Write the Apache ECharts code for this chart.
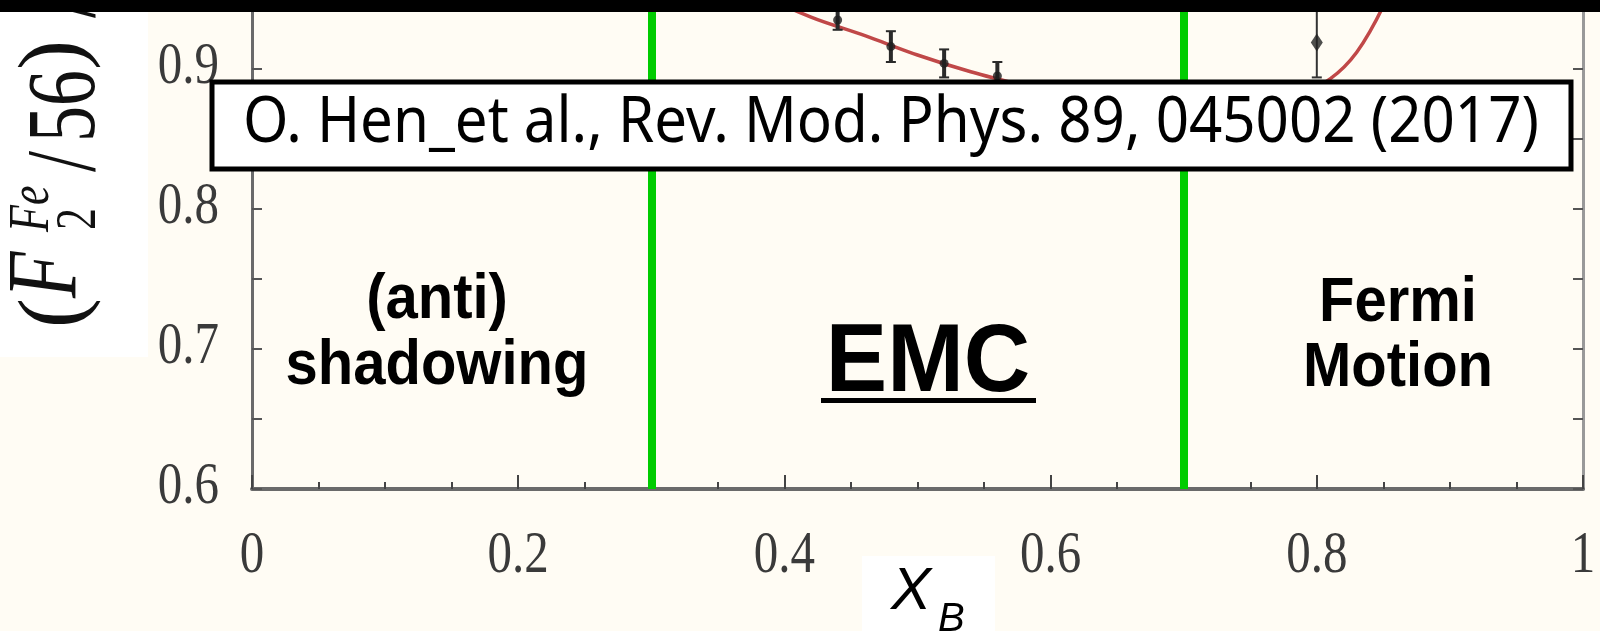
<!DOCTYPE html>
<html>
<head>
<meta charset="utf-8">
<script src="https://cdn.jsdelivr.net/npm/echarts@6/dist/echarts.min.js"></script>
<style>
  html, body { margin: 0; padding: 0; background: #fffcf4; }
  #chart { width: 1600px; height: 631px; }
</style>
</head>
<body>
<div id="chart"></div>
<script>
// Per-nucleon structure function ratio of iron vs Bjorken x
const xTickValues = [0, 0.2, 0.4, 0.6, 0.8, 1];
const xTickLabels = ['0', '0.2', '0.4', '0.6', '0.8', '1'];
const yTickValues = [0.6, 0.7, 0.8, 0.9];
const yTickLabels = ['0.6', '0.7', '0.8', '0.9'];

// EMC-region measurements: x, ratio, error
const emcX = [0.44, 0.48, 0.52, 0.56];
const emcY = [0.935, 0.916, 0.904, 0.895];
const emcErr = [0.007, 0.011, 0.010, 0.010];

// Fermi-motion region measurement
const fermiX = [0.80];
const fermiY = [0.919];
const fermiErr = [0.025];

// Fitted curve
const fitX = [0.34, 0.38, 0.42, 0.46, 0.50, 0.54, 0.58, 0.62, 0.66, 0.70, 0.74, 0.78, 0.81, 0.83, 0.85, 0.87];
const fitY = [0.985, 0.955, 0.937, 0.924, 0.910, 0.898, 0.888, 0.879, 0.872, 0.868, 0.868, 0.878, 0.893, 0.912, 0.945, 0.990];

// Region boundaries
const boundaries = [0.3, 0.7];

const regionNames = ['(anti)\nshadowing', 'EMC', 'Fermi\nMotion'];
const citation = 'O. Hen_et al., Rev. Mod. Phys. 89, 045002 (2017)';

const chart = echarts.init(document.getElementById('chart'), null, { renderer: 'canvas' });

function measure(font, text) {
  const c = document.createElement('canvas').getContext('2d');
  c.font = font;
  return c.measureText(text).width;
}

function errorBars(lineW, capW, color) {
  return function (params, api) {
    const x = api.value(0), y = api.value(1), e = api.value(2);
    const hi = api.coord([x, y + e]);
    const lo = api.coord([x, y - e]);
    return {
      type: 'group',
      children: [
        { type: 'line', shape: { x1: hi[0], y1: hi[1], x2: lo[0], y2: lo[1] }, style: { stroke: color, lineWidth: lineW } },
        { type: 'line', shape: { x1: hi[0] - capW, y1: hi[1], x2: hi[0] + capW, y2: hi[1] }, style: { stroke: color, lineWidth: 2 } },
        { type: 'line', shape: { x1: lo[0] - capW, y1: lo[1], x2: lo[0] + capW, y2: lo[1] }, style: { stroke: color, lineWidth: 2 } }
      ]
    };
  };
}

const axisGrey = '#6a6a6a';

chart.setOption({
  backgroundColor: '#fffcf4',
  animation: false,
  grid: { left: 252, right: 17, top: -1, bottom: 142, outerBoundsMode: 'none' },
  xAxis: {
    type: 'value', min: 0, max: 1, interval: 0.2,
    axisLine: { show: true, lineStyle: { color: axisGrey, width: 4 } },
    axisTick: { show: true, inside: true, length: 14, lineStyle: { color: '#444', width: 2 } },
    minorTick: { show: true, splitNumber: 4, length: 7, lineStyle: { color: '#444', width: 2 } },
    splitLine: { show: false },
    axisLabel: { show: false }
  },
  yAxis: [{
    type: 'value', min: 0.6, max: 0.95, interval: 0.05,
    axisLine: { show: true, lineStyle: { color: axisGrey, width: 3 } },
    axisTick: { show: true, inside: true, length: 10, lineStyle: { color: '#555', width: 2 } },
    splitLine: { show: false },
    axisLabel: { show: false }
  }, {
    type: 'value', min: 0.6, max: 0.95, interval: 0.05, position: 'right',
    axisLine: { show: true, lineStyle: { color: '#999', width: 3 } },
    axisTick: { show: true, inside: true, length: 10, lineStyle: { color: '#555', width: 2 } },
    splitLine: { show: false },
    axisLabel: { show: false }
  }],
  series: [
    {
      name: 'boundaries', type: 'line', data: [], silent: true,
      markLine: {
        silent: true, symbol: ['none', 'none'], animation: false,
        label: { show: false },
        lineStyle: { color: '#00cc00', width: 8, type: 'solid' },
        emphasis: { disabled: true },
        data: boundaries.map(function (b) { return { xAxis: b }; })
      }
    },
    {
      name: 'fit', type: 'line', smooth: 0.3, showSymbol: false, symbol: 'none', clip: true,
      lineStyle: { color: '#c04848', width: 3.5 },
      data: fitX.map(function (x, i) { return [x, fitY[i]]; }),
      z: 3
    },
    {
      name: 'emc-err', type: 'custom', clip: true, z: 4,
      renderItem: errorBars(4, 5, '#2a2a2a'),
      data: emcX.map(function (x, i) { return [x, emcY[i], emcErr[i]]; })
    },
    {
      name: 'emc', type: 'scatter', symbol: 'circle', symbolSize: 9, z: 5,
      itemStyle: { color: '#1e1e1e' },
      data: emcX.map(function (x, i) { return [x, emcY[i]]; })
    },
    {
      name: 'fermi-err', type: 'custom', clip: true, z: 4,
      renderItem: errorBars(2, 5, '#333'),
      data: fermiX.map(function (x, i) { return [x, fermiY[i], fermiErr[i]]; })
    },
    {
      name: 'fermi', type: 'scatter', symbol: 'diamond', symbolSize: [12, 18], z: 5,
      itemStyle: { color: '#222' },
      data: fermiX.map(function (x, i) { return [x, fermiY[i]]; })
    }
  ]
});

// Tick labels placed through the axis scales (tall serif numerals)
const tickFont = '49px "Liberation Serif"';
const tickStretch = 1.22;
const graphics = [];

xTickValues.forEach(function (v, i) {
  graphics.push({
    type: 'text', z: 20,
    x: chart.convertToPixel({ xAxisIndex: 0 }, v), y: 556, scaleY: tickStretch,
    style: { text: xTickLabels[i], font: tickFont, fill: '#3a3a3a', textAlign: 'center', textVerticalAlign: 'middle' }
  });
});
yTickValues.forEach(function (v, i) {
  graphics.push({
    type: 'text', z: 20,
    x: 219, y: chart.convertToPixel({ yAxisIndex: 0 }, v) - 2, scaleY: tickStretch,
    style: { text: yTickLabels[i], font: tickFont, fill: '#3a3a3a', textAlign: 'right', textVerticalAlign: 'middle' }
  });
});

// white panels behind the axis titles
graphics.push({ type: 'rect', z: -1, shape: { x: 0, y: 0, width: 148, height: 357 }, style: { fill: '#ffffff' } });
graphics.push({ type: 'rect', z: -1, shape: { x: 862, y: 556, width: 133, height: 80 }, style: { fill: '#ffffff' } });

// y-axis title, read bottom to top.
// [text, font, position along the axis, centre line x on screen, glyph stretch]
const yTitleParts = [
  ['(', '90px "Liberation Serif"', 4, 57, 1.0],
  ['F', 'italic 76px "Liberation Serif"', 34, 49, 1.3],
  ['Fe', 'italic 44px "Liberation Serif"', 100, 33, 1.3],
  ['2', '44px "Liberation Serif"', 102, 80, 1.3],
  ['/', '76px "Liberation Serif"', 160, 68, 1.3],
  ['56', '72px "Liberation Serif"', 190, 68, 1.35],
  [')', '90px "Liberation Serif"', 262, 57, 1.0],
  ['/', '76px "Liberation Serif"', 314, 68, 1.3]
];
const titleOriginX = 98, titleOriginY = 332;
graphics.push({
  type: 'group', z: 50, x: titleOriginX, y: titleOriginY, rotation: Math.PI / 2,
  children: yTitleParts.map(function (p) {
    const s = p[4];
    // inner group stretches the glyphs across the reading direction
    return {
      type: 'group', scaleY: s, scaleX: 1,
      children: [{
        type: 'text', x: p[2], y: (p[3] - titleOriginX) / s, z: 50,
        style: { text: p[0], font: p[1], fill: '#111', textVerticalAlign: 'middle' }
      }]
    };
  })
});

// x-axis title
graphics.push({ type: 'text', x: 891, y: 592, z: 50, style: { text: 'X', font: 'italic 60px "Liberation Sans"', fill: '#000', textVerticalAlign: 'middle' } });
graphics.push({ type: 'text', x: 938, y: 620, z: 50, style: { text: 'B', font: 'italic 40px "Liberation Sans"', fill: '#000', textVerticalAlign: 'middle' } });

// region names
graphics.push({ type: 'text', x: 437, y: 333, z: 60, scaleY: 1.1, style: { text: regionNames[0], font: 'bold 58px "Liberation Sans"', lineHeight: 60, fill: '#000', textAlign: 'center', textVerticalAlign: 'middle' } });
graphics.push({ type: 'text', x: 928, y: 364, z: 60, scaleY: 1.05, style: { text: regionNames[1], font: 'bold 92px "Liberation Sans"', fill: '#000', textAlign: 'center', textVerticalAlign: 'middle' } });
graphics.push({ type: 'rect', z: 60, shape: { x: 821, y: 398, width: 215, height: 5 }, style: { fill: '#000' } });
graphics.push({ type: 'text', x: 1398, y: 336, z: 60, scaleY: 1.1, style: { text: regionNames[2], font: 'bold 58px "Liberation Sans"', lineHeight: 59, fill: '#000', textAlign: 'center', textVerticalAlign: 'middle' } });

// citation box
const citeFont = '63px "Noto Sans"';
graphics.push({ type: 'rect', z: 80, shape: { x: 212, y: 82, width: 1359, height: 87 }, style: { fill: '#ffffff', stroke: '#000', lineWidth: 5 } });
graphics.push({ type: 'text', x: 891, y: 124, z: 81, scaleX: 1296 / measure(citeFont, citation), style: { text: citation, font: citeFont, fill: '#000', textAlign: 'center', textVerticalAlign: 'middle' } });

// black band across the top
graphics.push({ type: 'rect', z: 90, shape: { x: 0, y: 0, width: 1600, height: 12 }, style: { fill: '#000' } });

chart.setOption({ graphic: graphics });
</script>
</body>
</html>
